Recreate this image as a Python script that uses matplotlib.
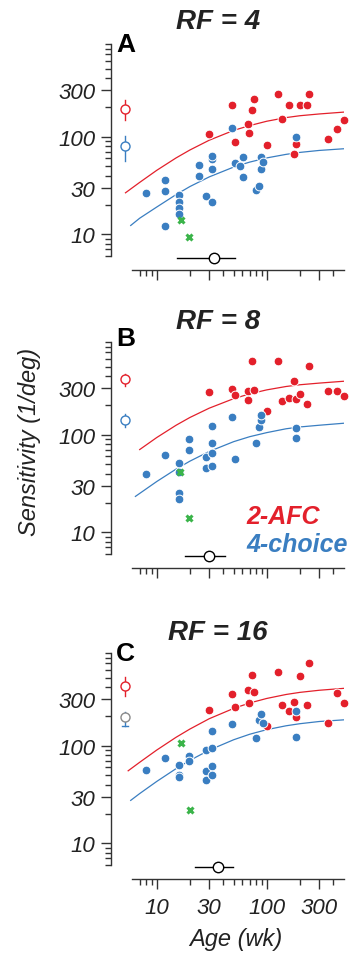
import matplotlib
matplotlib.use('Agg')
import matplotlib.pyplot as plt
from matplotlib.ticker import NullFormatter

plt.rcParams['font.family'] = ['Liberation Sans', 'DejaVu Sans']

# ---------------- data ----------------
rf_titles = ['RF = 4', 'RF = 8', 'RF = 16']
panel_letters = ['A', 'B', 'C']

# Panel A (RF = 4)
afc_age_A = [30, 48, 52, 68, 69, 74, 77, 100, 126, 137, 160, 176, 184, 200, 233, 241, 359, 439, 501]
afc_sens_A = [107, 209, 87.5, 135, 110, 190, 242, 81.6, 273, 153, 210, 67, 85, 209, 209, 273, 95.5, 120, 147]
ch4_age_A = [8.0, 12, 12, 12, 16, 16, 16, 16, 24, 24, 28, 32, 32, 32, 32, 48, 52, 57, 60.5, 60.5,
             80.5, 84.6, 88.8, 88.8, 92.6, 184]
ch4_sens_A = [26.6, 35.6, 27.7, 12.2, 25.0, 21.4, 18.7, 16.0, 51.4, 39.4, 24.4, 21.2, 46.4, 59.7, 63.5, 123,
              53.9, 49.8, 62, 38.2, 28.1, 31.6, 46.4, 62, 55.1, 98.4]
grn_age_A = [16.5, 19.8]
grn_sens_A = [13.9, 9.4]

# Panel B (RF = 8)
afc_age_B = [30, 48, 52, 68, 68, 74, 77, 100, 126, 137, 160, 176, 184, 200, 233, 241, 359, 439, 501]
afc_sens_B = [274, 294, 253, 283, 225, 569, 287, 174, 569, 221, 240, 356, 234, 259, 208, 509, 281, 281, 249]
ch4_age_B = [8.0, 12, 16, 16, 16, 16, 19.8, 19.8, 28, 28, 32, 32, 32, 32, 48, 52, 80.5, 84.6, 88.8, 88.8,
             184, 184]
ch4_sens_B = [39.5, 62.6, 50.9, 25.3, 22.1, 41.5, 90.2, 70.5, 59.7, 45.6, 124, 82, 65.1, 47.8, 151, 56,
              81.3, 119, 143, 160, 117, 91.6]
grn_age_B = [16.3, 19.5]
grn_sens_B = [41.1, 14.0]

# Panel C (RF = 16)
afc_age_C = [30, 48, 52, 68, 69, 74, 77, 100, 126, 137, 160, 176, 184, 200, 233, 241, 359, 439, 501]
afc_sens_C = [234, 339, 248, 373, 272, 532, 359, 160, 567, 262, 225, 279, 195, 524, 262, 707, 170, 348, 277]
ch4_age_C = [8.0, 12, 16, 16, 16, 19.8, 19.8, 28, 28, 28, 32, 32, 32, 32, 48, 80.5, 84.6, 88.8, 92.6,
             184, 184]
ch4_sens_C = [55.8, 75.3, 63.3, 50.0, 48.0, 79, 69.6, 90.3, 54.9, 44.7, 141, 94.6, 62.3, 50.3, 167,
              121, 185, 211, 171, 227, 124]
grn_age_C = [16.6, 20.1]
grn_sens_C = [106, 22.0]

# fitted curves
curve_age_red_A = [5.2, 7, 10, 15, 20, 30, 50, 70, 100, 150, 200, 300, 500]
curve_red_A = [26.6, 34, 45.2, 60.6, 73, 92, 116, 130, 144, 157, 164, 171, 178.6]
curve_age_blue_A = [5.8, 7, 10, 15, 20, 30, 50, 70, 100, 150, 200, 300, 500]
curve_blue_A = [12.3, 14.6, 19, 25.5, 30.8, 38.7, 48.8, 54.9, 60.6, 65.9, 69, 72.3, 75.2]

curve_age_red_B = [7.0, 10, 15, 20, 30, 50, 70, 100, 150, 200, 300, 500]
curve_red_B = [70.4, 93.5, 125, 150, 187, 234, 262, 288, 312, 325, 338, 353]
curve_age_blue_B = [6.4, 7, 10, 15, 20, 30, 50, 70, 100, 150, 200, 300, 500]
curve_blue_B = [23.3, 25, 33.1, 44.4, 53.5, 67.3, 84.8, 95.4, 105, 115, 120, 125, 131]

curve_age_red_C = [5.5, 7, 10, 15, 20, 30, 50, 70, 100, 150, 200, 300, 500]
curve_red_C = [55.3, 67.6, 90.2, 122, 148, 189, 241, 274, 305, 335, 352, 370, 387]
curve_age_blue_C = [5.8, 7, 10, 15, 20, 30, 50, 70, 100, 150, 200, 300, 500]
curve_blue_C = [27.5, 32.3, 43, 58.2, 70.7, 90, 115, 131, 146, 160, 168, 177, 184]

# adult reference (open circles): value, low, high
adult_age = 5.15
adult_red = [(192, 149, 240), (368, 316, 415), (413, 326, 504)]
adult_blue = [(81, 57, 102), (140, 121, 164), (197, 160, 220)]

# mean age at testing (open black circle with range)
mean_age = [33.2, 29.9, 36.4]
mean_age_lo = [15.2, 18.1, 22.3]
mean_age_hi = [51.5, 41.8, 49.8]

x_major = [10, 30, 100, 300]
x_major_labels = ['10', '30', '100', '300']
x_minor = [7, 8, 9, 20, 40, 50, 60, 70, 80, 90, 200, 400]
y_major = [10, 30, 100, 300]
y_major_labels = ['10', '30', '100', '300']
y_minor = [6, 7, 8, 9, 20, 40, 50, 60, 70, 80, 90, 200, 400, 500, 600, 700, 800, 900]

legend_labels = ['2-AFC', '4-choice']

# ---------------- style ----------------
RED = '#e3202b'
BLUE = '#3a7ec1'
GREEN = '#3bb44a'
AXC = '#333333'
TXT = '#222222'

W, H = 352, 954
fig = plt.figure(figsize=(W / 100, H / 100), dpi=100)

ax_left = 110.5 / W
ax_width = 233.1 / W
ax_height = 230 / H
ax_bottoms_px = [271, 569, 880]
title_y_px = [22, 322, 633]
letter_y_px = [45, 339, 654]

panels = [
    (afc_age_A, afc_sens_A, ch4_age_A, ch4_sens_A, grn_age_A, grn_sens_A,
     curve_age_red_A, curve_red_A, curve_age_blue_A, curve_blue_A),
    (afc_age_B, afc_sens_B, ch4_age_B, ch4_sens_B, grn_age_B, grn_sens_B,
     curve_age_red_B, curve_red_B, curve_age_blue_B, curve_blue_B),
    (afc_age_C, afc_sens_C, ch4_age_C, ch4_sens_C, grn_age_C, grn_sens_C,
     curve_age_red_C, curve_red_C, curve_age_blue_C, curve_blue_C),
]

for i, (ra, rs, ba, bs, ga, gs, cxr, cyr, cxb, cyb) in enumerate(panels):
    ax = fig.add_axes([ax_left, (H - ax_bottoms_px[i]) / H, ax_width, ax_height])
    ax.set_xscale('log')
    ax.set_yscale('log')
    ax.set_xlim(3.8, 500)
    ax.set_ylim(4.3, 980)
    ax.patch.set_alpha(0)

    ax.plot(cxr, cyr, color=RED, lw=0.9, zorder=2)
    ax.plot(cxb, cyb, color=BLUE, lw=0.9, zorder=2)

    ax.plot(ra, rs, 'o', ms=6.3, mfc=RED, mec='white', mew=0.7, ls='none', clip_on=False, zorder=3)
    ax.plot(ba, bs, 'o', ms=6.3, mfc=BLUE, mec='white', mew=0.7, ls='none', clip_on=False, zorder=4)
    ax.plot(ga, gs, 'x', ms=5, color=GREEN, mew=2.2, ls='none', clip_on=False, zorder=5)

    # adult references
    v, lo, hi = adult_red[i]
    ax.plot([adult_age, adult_age], [lo, hi], color=RED, lw=1.0, zorder=3)
    ax.plot([adult_age], [v], 'o', ms=6.5, mfc='white', mec=RED, mew=1.0, zorder=4)
    v, lo, hi = adult_blue[i]
    ax.plot([adult_age, adult_age], [lo, hi], color=BLUE, lw=1.0, zorder=3)
    if i == 2:
        ax.plot([adult_age * 0.93, adult_age * 1.07], [lo, lo], color=BLUE, lw=1.0, zorder=3)
        ax.plot([adult_age], [v], 'o', ms=6.5, mfc='white', mec='#8a8a8a', mew=1.0, zorder=4)
    else:
        ax.plot([adult_age], [v], 'o', ms=6.5, mfc='white', mec=BLUE, mew=1.0, zorder=4)

    # mean age
    ax.plot([mean_age_lo[i], mean_age_hi[i]], [5.7, 5.7], color='black', lw=1.0, zorder=3)
    ax.plot([mean_age[i]], [5.7], 'o', ms=7.5, mfc='white', mec='black', mew=1.0, zorder=4)

    for s in ['top', 'right']:
        ax.spines[s].set_visible(False)
    ax.spines['left'].set_bounds(6, 900)
    ax.spines['bottom'].set_bounds(6, 500)
    for s in ['left', 'bottom']:
        ax.spines[s].set_color(AXC)
        ax.spines[s].set_linewidth(1.0)

    ax.set_xticks(x_major)
    ax.set_xticklabels(x_major_labels, fontstyle='italic', fontsize=16, color=TXT)
    ax.set_xticks(x_minor, minor=True)
    ax.set_yticks(y_major)
    ax.set_yticklabels(y_major_labels, fontstyle='italic', fontsize=16, color=TXT)
    ax.set_yticks(y_minor, minor=True)
    ax.xaxis.set_minor_formatter(NullFormatter())
    ax.yaxis.set_minor_formatter(NullFormatter())
    ax.tick_params(which='major', length=7, width=1.0, color=AXC, direction='out', pad=4)
    ax.tick_params(which='minor', length=4, width=1.0, color=AXC, direction='out')
    ax.tick_params(axis='x', which='major', pad=6)
    if i < 2:
        ax.set_xticklabels([])

    fig.text(218 / W, 1 - title_y_px[i] / H, rf_titles[i], ha='center', va='center',
             fontsize=20, fontweight='bold', fontstyle='italic', color=TXT)
    fig.text(116 / W, 1 - letter_y_px[i] / H, panel_letters[i], ha='left', va='center',
             fontsize=19, fontweight='bold', color='black')

fig.text(246 / W, 1 - 517 / H, legend_labels[0], ha='left', va='center', fontsize=18,
         fontweight='bold', fontstyle='italic', color=RED)
fig.text(246 / W, 1 - 545 / H, legend_labels[1], ha='left', va='center', fontsize=18,
         fontweight='bold', fontstyle='italic', color=BLUE)

fig.text(30 / W, 1 - 442 / H, 'Sensitivity (1/deg)', rotation=90, ha='center', va='center',
         fontsize=17, fontstyle='italic', color=TXT)
fig.text(236 / W, 1 - 940 / H, 'Age (wk)', ha='center', va='center',
         fontsize=17, fontstyle='italic', color=TXT)

fig.savefig('out.png', dpi=100)
